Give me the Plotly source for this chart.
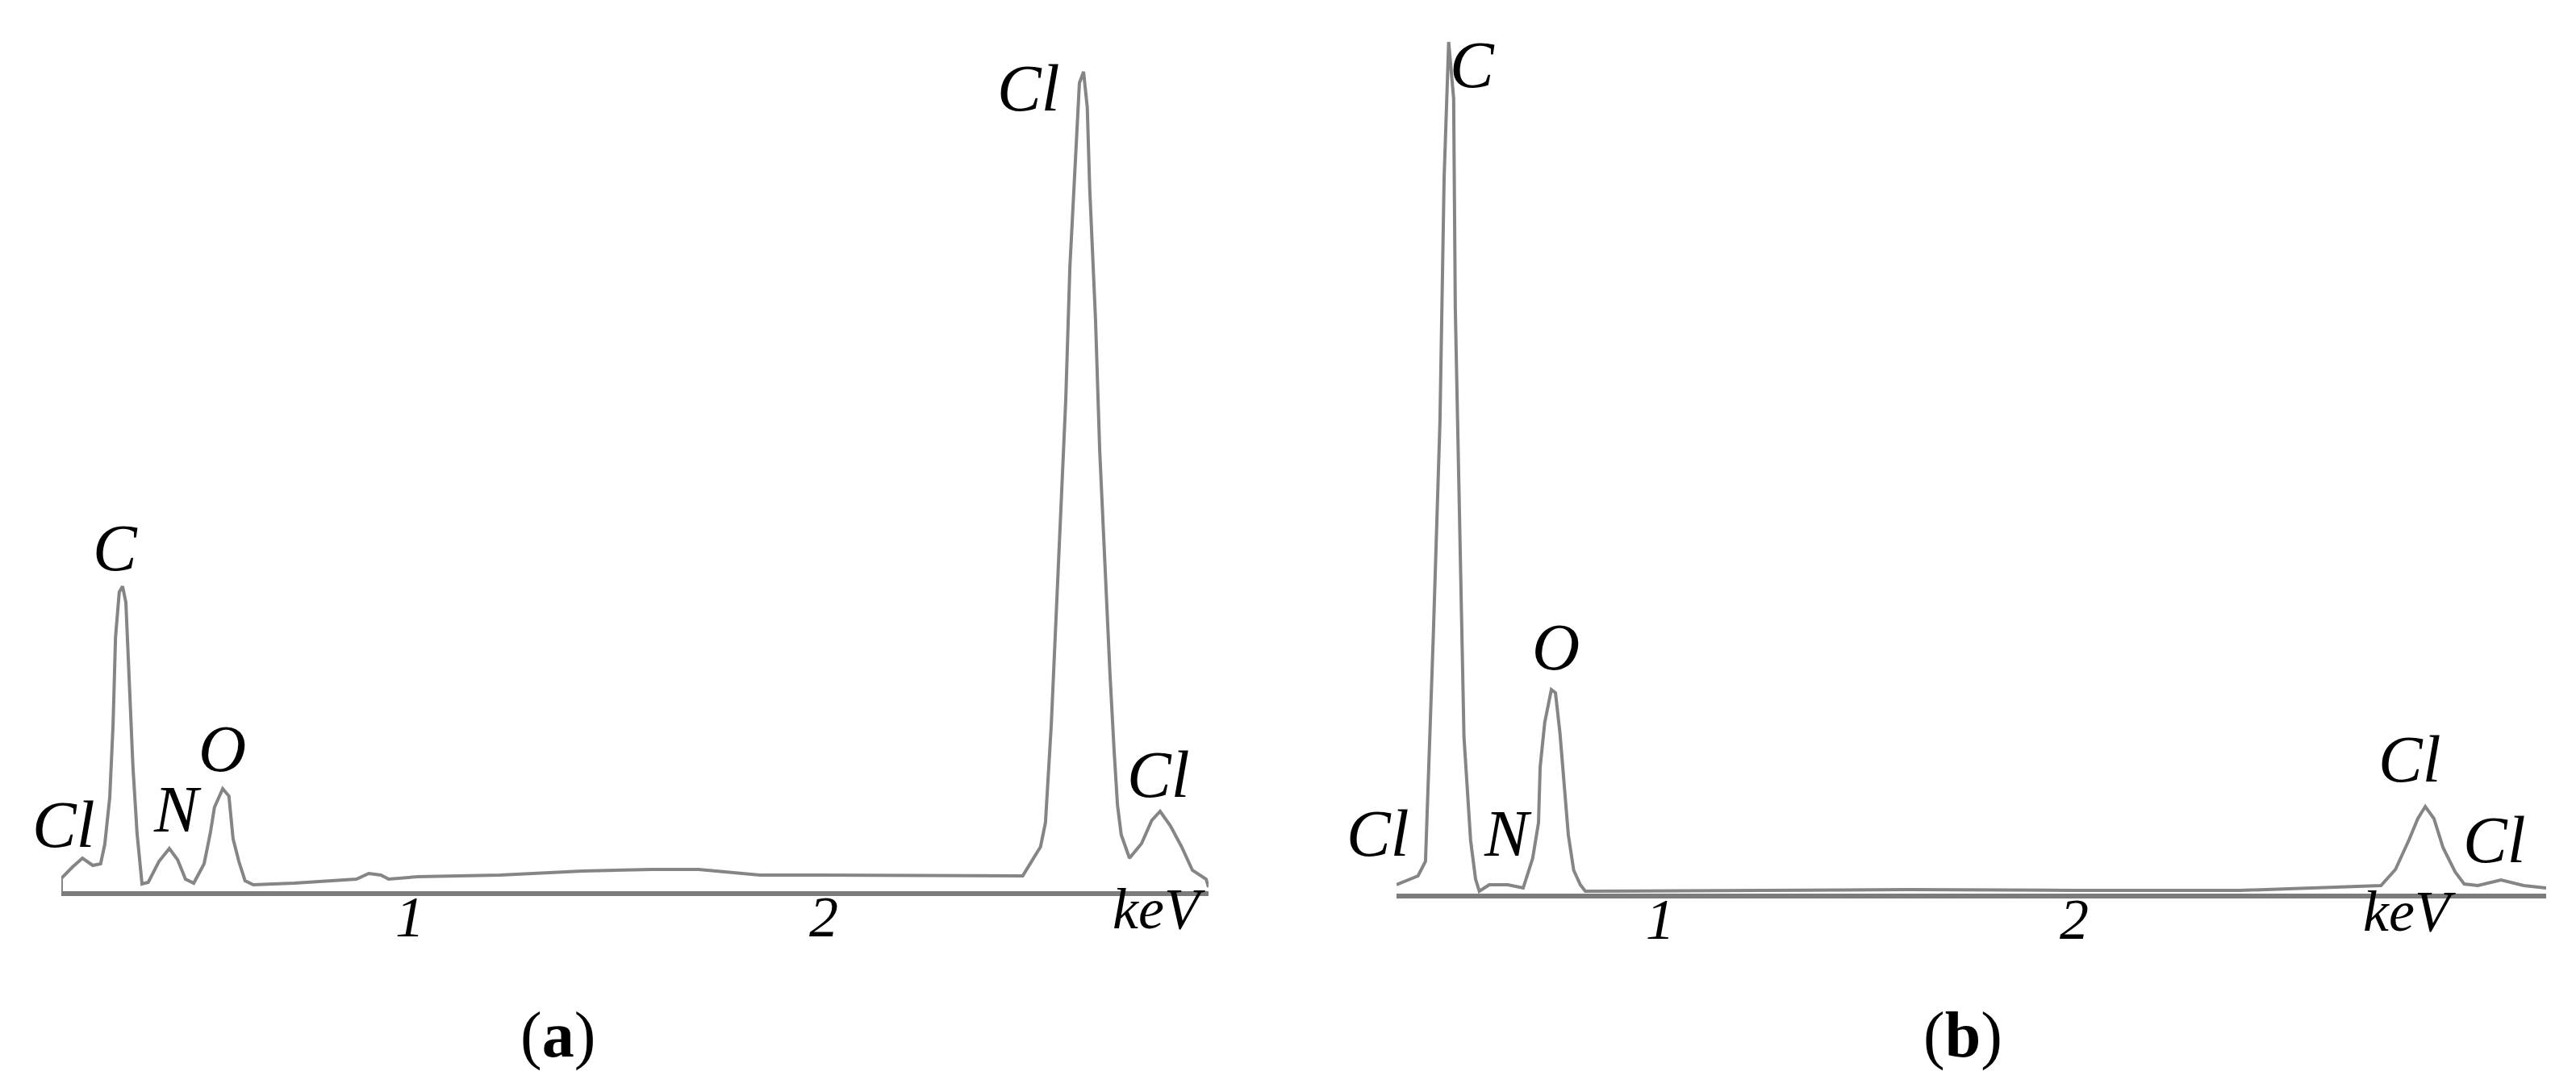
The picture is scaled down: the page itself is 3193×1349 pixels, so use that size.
import plotly.graph_objects as go

# ---------------- Data ----------------
# Panel (a): energy (keV) and intensity (arb. units)
a_kev = [0.158, 0.158, 0.185, 0.209, 0.234, 0.253, 0.263, 0.275, 0.283, 0.289,
         0.298, 0.306, 0.314, 0.321, 0.331, 0.341, 0.353, 0.368, 0.394, 0.419,
         0.439, 0.458, 0.478, 0.503, 0.518, 0.528, 0.548, 0.563, 0.573, 0.587,
         0.602, 0.622, 0.721, 0.871, 0.901, 0.930, 0.949, 1.019, 1.218, 1.417,
         1.585, 1.698, 1.846, 1.95, 2.2, 2.481, 2.524, 2.536, 2.550, 2.559,
         2.573, 2.585, 2.595, 2.608, 2.618, 2.628, 2.637, 2.643, 2.657, 2.667,
         2.680, 2.692, 2.702, 2.710, 2.719, 2.739, 2.768, 2.793, 2.813, 2.838,
         2.865, 2.891, 2.924, 2.93]
a_counts = [0, 16, 30, 41, 32, 34, 58, 116, 206, 315,
            371, 378, 358, 265, 155, 72, 9, 11, 37, 53,
            39, 15, 10, 34, 72, 104, 127, 118, 65, 37,
            13, 8, 10, 15, 22, 20, 15, 18, 20, 25,
            27, 27, 20, 20, 20, 19, 55, 85, 206, 308,
            459, 609, 774, 914, 1002, 1016, 972, 870, 708, 547,
            396, 268, 173, 107, 70, 41, 59, 88, 99, 81,
            55, 26, 15, 5]

# Panel (b)
b_kev = [0.363, 0.415, 0.433, 0.441, 0.452, 0.468, 0.478, 0.489, 0.501, 0.505,
         0.517, 0.526, 0.542, 0.554, 0.563, 0.587, 0.632, 0.669, 0.692, 0.706,
         0.710, 0.721, 0.737, 0.747, 0.758, 0.770, 0.778, 0.791, 0.807, 0.819,
         1.2, 1.6, 2.0, 2.4, 2.741, 2.776, 2.809, 2.830, 2.848, 2.869,
         2.891, 2.920, 2.942, 2.975, 3.031, 3.086, 3.140]
b_counts = [11, 22, 40, 150, 322, 586, 887, 1056, 986, 726,
            421, 194, 66, 18, 3, 11, 11, 7, 44, 88,
            157, 212, 253, 249, 198, 128, 73, 29, 11, 3,
            4, 5, 4, 4, 10, 30, 67, 93, 108, 93,
            57, 27, 12, 10, 17, 10, 7]

# Element labels
a_labels = ["Cl", "C", "N", "O", "Cl", "Cl"]
a_label_kev = [0.162, 0.289, 0.439, 0.546, 2.495, 2.809]
a_label_y = [83, 426, 102, 177, 996, 145]

b_labels = ["Cl", "C", "N", "O", "Cl", "Cl"]
b_label_kev = [0.364, 0.547, 0.632, 0.748, 2.809, 3.014]
b_label_y = [75, 1028, 75, 306, 167, 67]
b_label_xshift = [-24, 0, 0, 0, 0, 0]

tick_vals = [1, 2]
tick_text = ["1", "2"]
unit_label = "keV"
unit_kev = 2.81
panel_names = ["a", "b"]

# ---------------- Figure ----------------
W, H = 3193, 1349
LINE = "#858585"
AXIS = "#7c7c7c"
FONT = "Liberation Serif"

fig = go.Figure()
fig.add_trace(go.Scatter(x=a_kev, y=a_counts, mode="lines",
                         line=dict(color=LINE, width=4), xaxis="x", yaxis="y",
                         showlegend=False, hoverinfo="skip"))
fig.add_trace(go.Scatter(x=b_kev, y=b_counts, mode="lines",
                         line=dict(color=LINE, width=4), xaxis="x2", yaxis="y2",
                         showlegend=False, hoverinfo="skip"))

ax_common = dict(showgrid=False, zeroline=False, showline=True, linecolor=AXIS,
                 linewidth=6, ticks="", tickvals=tick_vals,
                 ticktext=["<i>%s</i>" % t for t in tick_text],
                 tickfont=dict(family=FONT, size=72, color="#000"),
                 ticklabelstandoff=-36, fixedrange=True)

fig.update_layout(
    width=W, height=H,
    margin=dict(l=0, r=0, t=0, b=0),
    paper_bgcolor="white", plot_bgcolor="white",
    xaxis=dict(domain=[68 / W, 1490 / W], range=[0.158, 2.93], anchor="y", **ax_common),
    yaxis=dict(domain=[1 - 1097 / H, 1], range=[0, 1097], visible=False, fixedrange=True),
    xaxis2=dict(domain=[1723 / W, 3148 / W], range=[0.363, 3.14], anchor="y2", **ax_common),
    yaxis2=dict(domain=[1 - 1100 / H, 1], range=[0, 1100], visible=False, fixedrange=True),
)

anns = []
for t, x, y in zip(a_labels, a_label_kev, a_label_y):
    anns.append(dict(x=x, y=y, xref="x", yref="y", text="<i>%s</i>" % t, showarrow=False,
                     font=dict(family=FONT, size=82, color="#000"),
                     xanchor="center", yanchor="middle"))
for t, x, y, s in zip(b_labels, b_label_kev, b_label_y, b_label_xshift):
    anns.append(dict(x=x, y=y, xref="x2", yref="y2", text="<i>%s</i>" % t, showarrow=False,
                     font=dict(family=FONT, size=82, color="#000"),
                     xanchor="center", yanchor="middle", xshift=s))
for xr, yr in (("x", "y"), ("x2", "y2")):
    anns.append(dict(x=unit_kev, y=0, xref=xr, yref=yr, text="<i>%s</i>" % unit_label,
                     showarrow=False, font=dict(family=FONT, size=72, color="#000"),
                     xanchor="center", yanchor="middle", yshift=-22))
for name, px in zip(panel_names, (683, 2425)):
    anns.append(dict(x=px / W, y=1 - 1275 / H, xref="paper", yref="paper",
                     text="(<b>%s</b>)" % name, showarrow=False,
                     font=dict(family=FONT, size=80, color="#000"),
                     xanchor="center", yanchor="middle"))
fig.update_layout(annotations=anns)

fig.write_html("out.html")
